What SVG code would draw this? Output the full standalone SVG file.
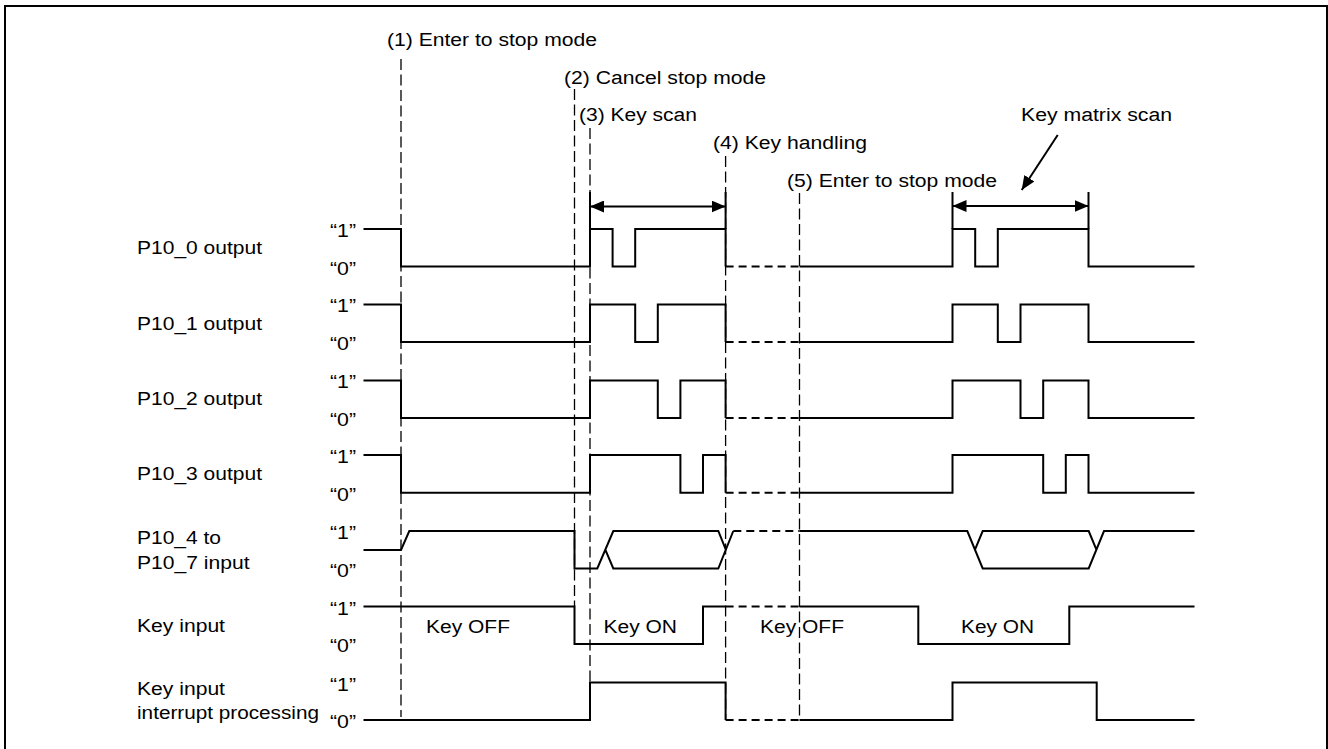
<svg xmlns="http://www.w3.org/2000/svg" width="1328" height="749" viewBox="0 0 1328 749">
<defs>
<style>
text{font-family:"Liberation Sans",Arial,sans-serif;font-size:18px;fill:#000}
.w{fill:none;stroke:#000;stroke-width:2;stroke-linejoin:miter}
.wd{fill:none;stroke:#000;stroke-width:2;stroke-dasharray:8 5}
.g{fill:none;stroke:#000;stroke-width:1.3;stroke-dasharray:11 4.5}
.a{fill:none;stroke:#000;stroke-width:2}
</style>
<marker id="ah" markerUnits="userSpaceOnUse" markerWidth="14" markerHeight="12" refX="14" refY="6" orient="auto-start-reverse" viewBox="0 0 14 12">
<path d="M0,0 L14,6 L0,12 z" fill="#000"/>
</marker>
</defs>
<rect x="5" y="6" width="1322" height="760" fill="#fff" stroke="#000" stroke-width="2"/>

<g id="events">
<text x="387" y="46" textLength="210" lengthAdjust="spacingAndGlyphs">(1) Enter to stop mode</text>
<text x="564" y="84" textLength="202" lengthAdjust="spacingAndGlyphs">(2) Cancel stop mode</text>
<text x="579" y="121" textLength="118" lengthAdjust="spacingAndGlyphs">(3) Key scan</text>
<text x="713" y="149" textLength="154" lengthAdjust="spacingAndGlyphs">(4) Key handling</text>
<text x="787" y="187" textLength="210" lengthAdjust="spacingAndGlyphs">(5) Enter to stop mode</text>
<text x="1021" y="121" textLength="151" lengthAdjust="spacingAndGlyphs">Key matrix scan</text>
</g>

<g id="connectors">
<path class="g" d="M401,59 V717 M574.5,89 V606.5 M590,128 V682.5 M725.6,156 V720 M799.5,193 V717"/>
<path class="a" d="M590,192 V229 M725.6,192 V229 M952.5,192 V229 M1088.5,192 V229"/>
<line class="a" x1="590" y1="206.5" x2="725.6" y2="206.5" marker-start="url(#ah)" marker-end="url(#ah)"/>
<line class="a" x1="952.5" y1="206" x2="1088.5" y2="206" marker-start="url(#ah)" marker-end="url(#ah)"/>
<line class="a" x1="1057.7" y1="135" x2="1021.7" y2="190" marker-end="url(#ah)"/>
</g>

<g id="p10_0">
<text x="137" y="254" textLength="125" lengthAdjust="spacingAndGlyphs">P10_0 output</text>
<text x="330" y="237" textLength="26" lengthAdjust="spacingAndGlyphs">“1”</text>
<text x="330" y="274.5" textLength="26" lengthAdjust="spacingAndGlyphs">“0”</text>
<path class="w" d="M363.5,229 H401 V266.5 H590 V229 H612.6 V266.5 H635.2 V229 H725.6 V266.5 M799.5,266.5 H952.5 V229 H975.2 V266.5 H997.8 V229 H1088.5 V266.5 H1194.5"/>
<path class="wd" d="M725.6,266.5 H799.5"/>
</g>

<g id="p10_1">
<text x="137" y="329.5" textLength="125" lengthAdjust="spacingAndGlyphs">P10_1 output</text>
<text x="330" y="312" textLength="26" lengthAdjust="spacingAndGlyphs">“1”</text>
<text x="330" y="350" textLength="26" lengthAdjust="spacingAndGlyphs">“0”</text>
<path class="w" d="M363.5,304.5 H401 V342 H590 V304.5 H635.2 V342 H657.8 V304.5 H725.6 V342 M799.5,342 H952.5 V304.5 H997.8 V342 H1020.5 V304.5 H1088.5 V342 H1194.5"/>
<path class="wd" d="M725.6,342 H799.5"/>
</g>

<g id="p10_2">
<text x="137" y="405" textLength="125" lengthAdjust="spacingAndGlyphs">P10_2 output</text>
<text x="330" y="388" textLength="26" lengthAdjust="spacingAndGlyphs">“1”</text>
<text x="330" y="425.5" textLength="26" lengthAdjust="spacingAndGlyphs">“0”</text>
<path class="w" d="M363.5,380.5 H401 V418 H590 V380.5 H657.8 V418 H680.4 V380.5 H725.6 V418 M799.5,418 H952.5 V380.5 H1020.5 V418 H1043.2 V380.5 H1088.5 V418 H1194.5"/>
<path class="wd" d="M725.6,418 H799.5"/>
</g>

<g id="p10_3">
<text x="137" y="480" textLength="125" lengthAdjust="spacingAndGlyphs">P10_3 output</text>
<text x="330" y="463" textLength="26" lengthAdjust="spacingAndGlyphs">“1”</text>
<text x="330" y="500.5" textLength="26" lengthAdjust="spacingAndGlyphs">“0”</text>
<path class="w" d="M363.5,455 H401 V492.7 H590 V455 H680.4 V492.7 H703 V455 H725.6 V492.7 M799.5,492.7 H952.5 V455 H1043.2 V492.7 H1065.8 V455 H1088.5 V492.7 H1194.5"/>
<path class="wd" d="M725.6,492.7 H799.5"/>
</g>

<g id="p10_4_7">
<text x="137" y="544" textLength="84" lengthAdjust="spacingAndGlyphs">P10_4 to</text>
<text x="137" y="568.5" textLength="112.5" lengthAdjust="spacingAndGlyphs">P10_7 input</text>
<text x="330" y="539" textLength="26" lengthAdjust="spacingAndGlyphs">“1”</text>
<text x="330" y="576.5" textLength="26" lengthAdjust="spacingAndGlyphs">“0”</text>
<path class="w" d="M363.5,550 H401 L409.3,531 H574.5 V568.5 H597.3 L613.3,531 H718.3 L725.8,549.7 M605.3,549.7 L613.3,568.5 H718.3 L733.3,531"/>
<path class="wd" d="M733.3,531 H799.5"/>
<path class="w" d="M799.5,531 H967.3 L982.7,568.5 H1088.7 L1104,531 H1194.5 M975,549.7 L982.7,531 H1088.7 L1096.4,549.7"/>
</g>

<g id="key_input">
<text x="137" y="631.5" textLength="88" lengthAdjust="spacingAndGlyphs">Key input</text>
<text x="330" y="614.5" textLength="26" lengthAdjust="spacingAndGlyphs">“1”</text>
<text x="330" y="652" textLength="26" lengthAdjust="spacingAndGlyphs">“0”</text>
<path class="w" d="M363.5,606.5 H574.5 V644 H703 V606.5 H725.6 M799.5,606.5 H918.3 V644 H1069.3 V606.5 H1194.5"/>
<path class="wd" d="M725.6,606.5 H799.5"/>
<text x="426" y="632.5" textLength="84" lengthAdjust="spacingAndGlyphs">Key OFF</text>
<text x="603.5" y="632.5" textLength="73.5" lengthAdjust="spacingAndGlyphs">Key ON</text>
<text x="760" y="632.5" textLength="84" lengthAdjust="spacingAndGlyphs">Key OFF</text>
<text x="961" y="632.5" textLength="73" lengthAdjust="spacingAndGlyphs">Key ON</text>
</g>

<g id="key_interrupt">
<text x="137" y="695" textLength="88" lengthAdjust="spacingAndGlyphs">Key input</text>
<text x="137" y="719" textLength="182" lengthAdjust="spacingAndGlyphs">interrupt processing</text>
<text x="330" y="690.5" textLength="26" lengthAdjust="spacingAndGlyphs">“1”</text>
<text x="330" y="728" textLength="26" lengthAdjust="spacingAndGlyphs">“0”</text>
<path class="w" d="M363.5,720 H590 V682.5 H725.6 V720 M799.5,720 H952.5 V682.5 H1096.7 V720 H1194.5"/>
<path class="wd" d="M725.6,720 H799.5"/>
</g>
</svg>
